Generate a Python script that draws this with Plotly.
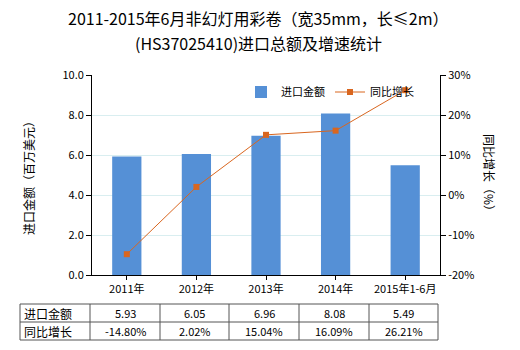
import plotly.graph_objects as go

categories = ["2011年", "2012年", "2013年", "2014年", "2015年1-6月"]
import_values = [5.93, 6.05, 6.96, 8.08, 5.49]
growth_values = [-14.80, 2.02, 15.04, 16.09, 26.21]
import_labels = ["5.93", "6.05", "6.96", "8.08", "5.49"]
growth_labels = ["-14.80%", "2.02%", "15.04%", "16.09%", "26.21%"]
row_names = ["进口金额", "同比增长"]
left_ticks = [0, 2, 4, 6, 8, 10]
right_ticks = [-20, -10, 0, 10, 20, 30]
title_lines = ["2011-2015年6月非幻灯用彩卷（宽35mm，长≤2m）", "(HS37025410)进口总额及增速统计"]

FONT = "Noto Sans CJK SC, Microsoft YaHei, sans-serif"
BAR = "#5590d6"
LINE = "#d9661f"

fig = go.Figure()
fig.add_trace(go.Bar(x=categories, y=import_values, name="进口金额",
                     marker=dict(color=BAR, line=dict(width=0)), width=0.42))
fig.add_trace(go.Scatter(x=categories, y=growth_values, name="同比增长", yaxis="y2",
                         mode="lines+markers",
                         line=dict(color=LINE, width=1),
                         marker=dict(symbol="square", size=6, color=LINE)))

L, R, T, B = 92, 80, 75, 75
W, H = 520, 350
pw, ph = W - L - R, H - T - B

def px(x):
    return (x - L) / pw

def py(y):
    return (H - B - y) / ph

shapes = []
annotations = []
# title
for yy, line in zip([18, 43], title_lines):
    annotations.append(dict(x=px(258), y=py(yy), xref="paper", yref="paper", text=line,
                            showarrow=False, xanchor="center", yanchor="middle",
                            font=dict(size=16, color="#000", family=FONT)))
# table
col_x = [20, 90, 160, 229, 299, 369, 438]
row_y = [304, 322, 340]
for yy in row_y:
    shapes.append(dict(type="line", xref="paper", yref="paper", x0=px(20), x1=px(438),
                       y0=py(yy), y1=py(yy), line=dict(color="#555", width=1)))
for xx in col_x:
    shapes.append(dict(type="line", xref="paper", yref="paper", x0=px(xx), x1=px(xx),
                       y0=py(304), y1=py(340), line=dict(color="#555", width=1)))
rows = [import_labels, growth_labels]
for r, (name, labels) in enumerate(zip(row_names, rows)):
    yc = py((row_y[r] + row_y[r + 1]) / 2)
    annotations.append(dict(x=px(22), y=yc, xref="paper", yref="paper", text=name,
                            showarrow=False, xanchor="left", yanchor="middle",
                            font=dict(size=12, color="#000", family=FONT)))
    for i, lab in enumerate(labels):
        xc = px((col_x[i + 1] + col_x[i + 2]) / 2)
        annotations.append(dict(x=xc, y=yc, xref="paper", yref="paper", text=lab,
                                showarrow=False, xanchor="center", yanchor="middle",
                                font=dict(size=11, color="#000", family=FONT)))
# axis titles
annotations.append(dict(x=px(28), y=0.5, xref="paper", yref="paper", text="进口金额（百万美元）",
                        textangle=-90, showarrow=False, xanchor="center",
                        font=dict(size=12, color="#000", family=FONT)))
annotations.append(dict(x=px(490), y=0.5, xref="paper", yref="paper", text="同比增长（%）",
                        textangle=90, showarrow=False, xanchor="center",
                        font=dict(size=12, color="#000", family=FONT)))

fig.update_layout(
    width=W, height=H,
    margin=dict(l=L, r=R, t=T, b=B),
    paper_bgcolor="white", plot_bgcolor="white",
    font=dict(family=FONT, size=11, color="#000"),
    bargap=0.58,
    showlegend=True,
    legend=dict(orientation="h", x=px(241), y=py(92), xanchor="left", yanchor="middle",
                bgcolor="rgba(0,0,0,0)", font=dict(size=11, family=FONT), itemwidth=30,
                tracegroupgap=0),
    xaxis=dict(type="category", range=[-0.5, 4.5], showline=True, linecolor="#000",
               ticks="outside", ticklen=4, tickcolor="#000", showgrid=False,
               tickfont=dict(size=11, color="#000")),
    yaxis=dict(range=[0, 10], tickvals=left_ticks, ticktext=[f"{v:.1f}" for v in left_ticks],
               showline=True, linecolor="#000", ticks="outside", ticklen=5, tickcolor="#000",
               gridcolor="#d9eef0", zeroline=False, tickfont=dict(size=11, color="#000")),
    yaxis2=dict(range=[-20, 30], tickvals=right_ticks, ticktext=[f"{v}%" for v in right_ticks],
                overlaying="y", side="right", showline=True, linecolor="#000",
                ticks="outside", ticklen=5, tickcolor="#000", showgrid=False, zeroline=False,
                tickfont=dict(size=11, color="#000")),
    shapes=shapes,
    annotations=annotations,
)

fig.write_html("out.html")
